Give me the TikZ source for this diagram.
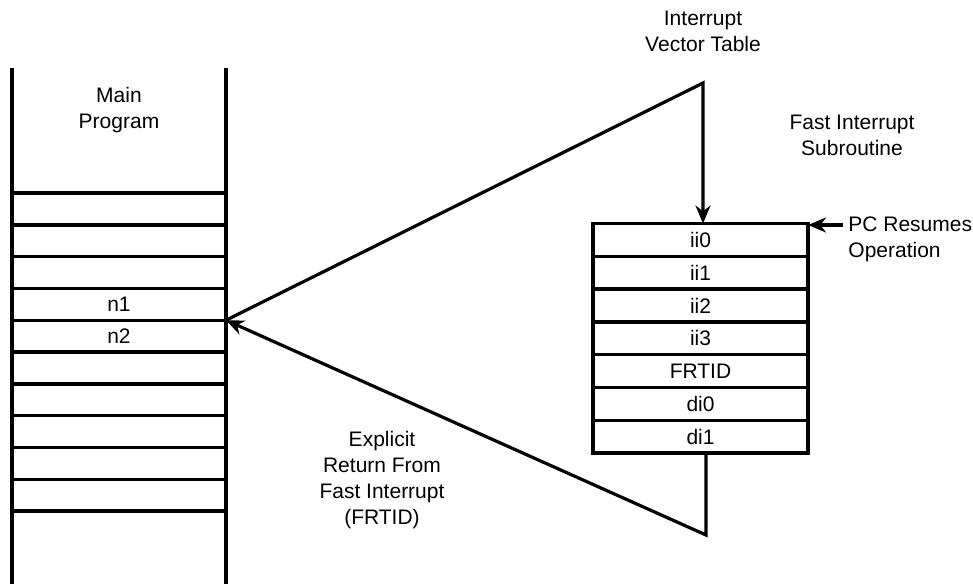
\documentclass[tikz,border=0pt]{standalone}
\usepackage{fontspec}
\setmainfont{Liberation Sans}
\usetikzlibrary{arrows.meta,positioning}

\begin{document}
\begin{tikzpicture}[
 x=0.5pt,y=-0.5pt,
 font=\fontsize{10.5}{13}\selectfont,
 mrow/.style={draw,line width=1.7pt,outer sep=0pt,inner sep=0pt,minimum width=107pt,minimum height=15.9pt},
 srow/.style={draw,line width=1.7pt,outer sep=0pt,inner sep=0pt,minimum width=107.5pt,minimum height=16.4pt},
 lbl/.style={align=center,inner sep=0pt},
 l/.style={line width=1.7pt},
 a/.style={-{Stealth[length=9pt,width=7.5pt]},line width=1.6pt}
]
\useasboundingbox (0,0) rectangle (973,584);
\draw[l] (12,68) -- (12,584) (226,68) -- (226,584);
\foreach \t [count=\i] in {{},{},{},n1,n2,{},{},{},{},{}}
  \node[mrow] (p\i) at (119,177.1+31.8*\i) {\t};
\node[srow] (ii0) at (700.5,239.9) {ii0};
\node[srow,below=0pt of ii0] (ii1) {ii1};
\node[srow,below=0pt of ii1] (ii2) {ii2};
\node[srow,below=0pt of ii2] (ii3) {ii3};
\node[srow,below=0pt of ii3] (frtid) {FRTID};
\node[srow,below=0pt of frtid] (di0) {di0};
\node[srow,below=0pt of di0] (di1) {di1};
\node[lbl] (main) at (119,110.5) {Main\\Program};
\node[lbl] (ivt) at (703,31) {Interrupt\\Vector Table};
\node[lbl] (fis) at (852,135) {Fast Interrupt\\Subroutine};
\node[lbl,align=left,anchor=west] (pc) at (848,239) {PC Resumes\\Operation};
\node[lbl] (ret) at (382,480) {Explicit\\Return From\\Fast Interrupt\\(FRTID)};
\coordinate (vt) at (703,83);
\coordinate (rt) at (706,535);
\coordinate (pcin) at (843,225);
\draw[a] (p4.south east) -- (vt) -- (vt |- ii0.north);
\draw[a] (rt |- di1.south) -- (rt) -- (p4.south east);
\draw[a] (pcin) -- (ii0.east |- pcin);
\end{tikzpicture}
\end{document}
